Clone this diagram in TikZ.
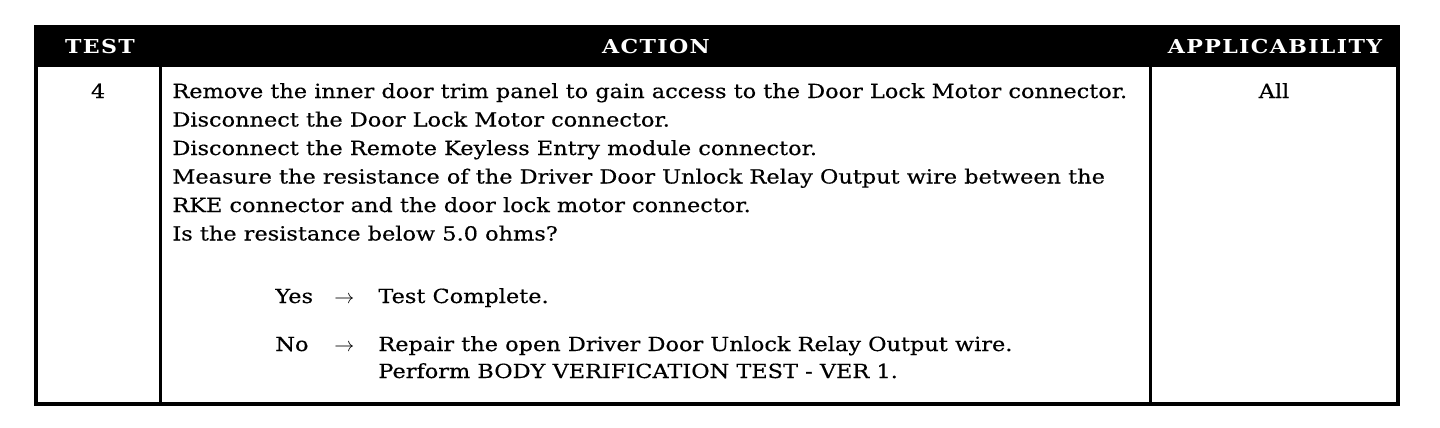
\documentclass[tikz,border=0pt]{standalone}
\usepackage{fontspec}
\setmainfont{DejaVu Serif}[FakeBold=0.4,FakeStretch=1.15]
\newfontfamily\hdrfont[LetterSpace=7,FakeStretch=1.15]{DejaVu Serif Bold}
\begin{document}
\begin{tikzpicture}[x=0.5pt,y=-0.5pt,
  hdr/.style={text=white,font=\hdrfont\fontsize{9.6}{12}\selectfont,inner sep=0pt,anchor=base},
  body/.style={font=\fontsize{9.75}{12}\selectfont,inner sep=0pt,anchor=base west},
  bodyc/.style={font=\fontsize{9.75}{12}\selectfont,inner sep=0pt,anchor=base}]
\useasboundingbox (0,0) rectangle (1440,428);
\fill[white] (0,0) rectangle (1440,428);
% table frame
\fill[black] (36,27) rectangle (1398,67);
\draw[line width=1.5pt] (160,67) -- (160,404);
\draw[line width=1.5pt] (1150,67) -- (1150,404);
\draw[line width=2.2pt] (36,27) rectangle (1398,404);
% header
\node[hdr] (hTest) at (100,53) {TEST};
\node[hdr] (hAction) at (656,53) {ACTION};
\node[hdr] (hAppl) at (1275,53) {APPLICABILITY};
% row
\node[bodyc] (num) at (98,98) {4};
\node[bodyc] (all) at (1274,98) {All};
\node[body] (l1) at (172,98) {Remove the inner door trim panel to gain access to the Door Lock Motor connector.};
\node[body] (l2) at (172,126.5) {Disconnect the Door Lock Motor connector.};
\node[body] (l3) at (172,155) {Disconnect the Remote Keyless Entry module connector.};
\node[body] (l4) at (172,183.5) {Measure the resistance of the Driver Door Unlock Relay Output wire between the};
\node[body] (l5) at (172,212) {RKE connector and the door lock motor connector.};
\node[body] (l6) at (172,240.5) {Is the resistance below 5.0 ohms?};
\node[body] (yes) at (275,303) {Yes};
\node[body] (yarr) at (334,303) {$\rightarrow$};
\node[body] (yres) at (378,303) {Test Complete.};
\node[body] (no) at (275,351) {No};
\node[body] (narr) at (334,351) {$\rightarrow$};
\node[body] (nres1) at (378,351) {Repair the open Driver Door Unlock Relay Output wire.};
\node[body] (nres2) at (378,378) {Perform BODY VERIFICATION TEST - VER 1.};
\end{tikzpicture}
\end{document}
